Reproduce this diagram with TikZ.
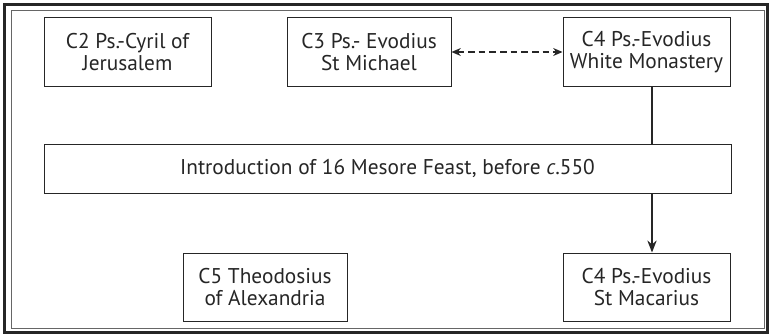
\documentclass[tikz,border=0pt]{standalone}
\usepackage{fontspec}
\setmainfont{PT Sans}
\usetikzlibrary{arrows.meta,calc}
\begin{document}
\begin{tikzpicture}[x=0.75pt,y=-0.75pt,
  box/.style={draw=black!85,line width=0.75pt,inner sep=0pt,align=center,
    font=\fontsize{16}{16.5}\selectfont,text=black!85},
  conn/.style={draw=black!85,line width=0.9pt}]
\useasboundingbox (0,0) rectangle (770,335);
\fill[white] (0,0) rectangle (770,335);
\draw[black!85,line width=1.8pt] (4.5,4.5) rectangle (767.5,332.5);
\draw[black!60,line width=0.75pt] (11,10.5) rectangle (764,328.5);
\node[box,minimum width=0.75pt*167,minimum height=0.75pt*68] (c2) at (127.5,52) {C2 Ps.-Cyril of\\Jerusalem};
\node[box,minimum width=0.75pt*164,minimum height=0.75pt*68] (c3) at (369,52) {C3 Ps.- Evodius\\St Michael};
\node[box,minimum width=0.75pt*167,minimum height=0.75pt*68] (c4w) at (646.5,52) {C4 Ps.-Evodius\\White Monastery};
\node[box,minimum width=0.75pt*687,minimum height=0.75pt*49] (intro) at (387.5,168.5) {Introduction of 16 Mesore Feast, before \textit{c}.550};
\node[box,minimum width=0.75pt*164,minimum height=0.75pt*68] (c5) at (265,287) {C5 Theodosius\\of Alexandria};
\node[box,minimum width=0.75pt*167,minimum height=0.75pt*68] (c4m) at (646.5,287) {C4 Ps.-Evodius\\St Macarius};
\coordinate (vx) at (652,0);
\draw[conn,dashed,dash pattern=on 5pt off 3pt,{Stealth[length=7pt,width=6pt]}-{Stealth[length=7pt,width=6pt]}] (c3.east) -- (c4w.west);
\draw[conn] (c4w.south -| vx) -- (intro.north -| vx);
\draw[conn,-{Stealth[length=9pt,width=7pt]}] (intro.south -| vx) -- (c4m.north -| vx);
\end{tikzpicture}
\end{document}
